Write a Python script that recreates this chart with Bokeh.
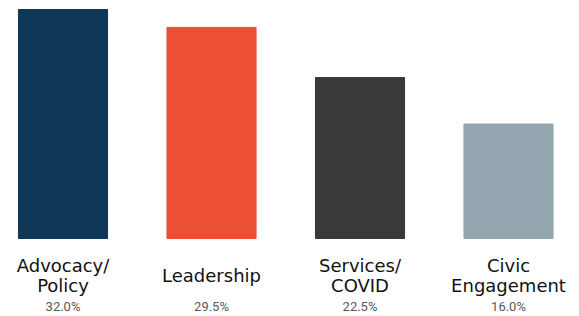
from bokeh.plotting import figure
from bokeh.models import ColumnDataSource, Range1d
from bokeh.core.properties import value
from bokeh.embed import file_html
from bokeh.resources import INLINE

categories = ["Advocacy/\nPolicy", "Leadership", "Services/\nCOVID", "Civic\nEngagement"]
values = [32.0, 29.5, 22.5, 16.0]
pct_labels = ["32.0%", "29.5%", "22.5%", "16.0%"]
colors = ["#0e3758", "#eb5035", "#393939", "#93a6b0"]

xs = list(range(len(categories)))
src = ColumnDataSource(dict(x=xs, top=values, cat=categories, pct=pct_labels, color=colors,
                            ycat=[-5.2] * 4, ypct=[-9.55] * 4))

p = figure(width=579, height=316, output_backend="svg", toolbar_location=None,
           x_range=Range1d(-0.421, 3.478), y_range=Range1d(-10.9, 33.26),
           min_border=0, outline_line_color=None)
p.axis.visible = False
p.grid.visible = False

p.vbar(x="x", top="top", bottom=0, width=0.6, color="color", source=src)
p.text(x="x", y="ycat", text="cat", source=src, text_align="center", text_baseline="middle",
       text_font=value("DejaVu Sans"), text_font_size="18px", text_color="#111111",
       text_line_height=0.95)
p.text(x="x", y="ypct", text="pct", source=src, text_align="center", text_baseline="middle",
       text_font=value("Roboto"), text_font_size="13px", text_color="#5a5a5a")

open("out.html", "w").write(file_html(p, INLINE))
